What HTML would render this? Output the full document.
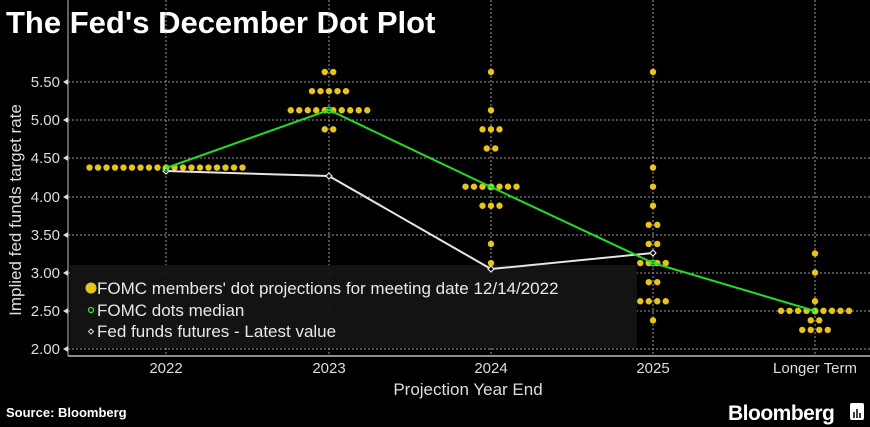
<!DOCTYPE html>
<html><head><meta charset="utf-8"><style>
html,body{margin:0;padding:0;background:#000;}
svg{display:block;font-family:"Liberation Sans",sans-serif;}
</style></head><body>
<svg width="870" height="427" viewBox="0 0 870 427" xmlns="http://www.w3.org/2000/svg">
<rect width="870" height="427" fill="#000"/>
<text x="6" y="33" fill="#fff" font-size="31" font-weight="bold">The Fed's December Dot Plot</text>
<g stroke="#9a9a9a" stroke-width="1" stroke-dasharray="2,2">
<line x1="68" x2="870" y1="82" y2="82"/><line x1="68" x2="870" y1="120" y2="120"/>
<line x1="68" x2="870" y1="158" y2="158"/><line x1="68" x2="870" y1="197" y2="197"/>
<line x1="68" x2="870" y1="235" y2="235"/><line x1="68" x2="870" y1="273" y2="273"/>
<line x1="68" x2="870" y1="311" y2="311"/><line x1="68" x2="870" y1="349" y2="349"/>
<line x1="166" x2="166" y1="0" y2="356"/><line x1="329" x2="329" y1="0" y2="356"/>
<line x1="491" x2="491" y1="0" y2="356"/><line x1="653" x2="653" y1="0" y2="356"/>
<line x1="815" x2="815" y1="0" y2="356"/>
</g>
<line x1="68" x2="68" y1="0" y2="356" stroke="#bbb"/>
<line x1="68" x2="870" y1="356" y2="356" stroke="#bbb" stroke-width="1.5"/>
<g fill="#ddd" font-size="15" text-anchor="end">
<text x="60" y="87">5.50</text><text x="60" y="125">5.00</text><text x="60" y="163">4.50</text>
<text x="60" y="202">4.00</text><text x="60" y="240">3.50</text><text x="60" y="278">3.00</text>
<text x="60" y="316">2.50</text><text x="60" y="354">2.00</text>
</g>
<g fill="#ddd"><path d="M63,82 l5,-3 v6z"/><path d="M63,120 l5,-3 v6z"/><path d="M63,158 l5,-3 v6z"/><path d="M63,197 l5,-3 v6z"/><path d="M63,235 l5,-3 v6z"/><path d="M63,273 l5,-3 v6z"/><path d="M63,311 l5,-3 v6z"/><path d="M63,349 l5,-3 v6z"/></g>
<text transform="translate(21,210) rotate(-90)" fill="#ddd" font-size="17" text-anchor="middle">Implied fed funds target rate</text>
<g fill="#ddd" font-size="15" text-anchor="middle">
<text x="166" y="373">2022</text><text x="329" y="373">2023</text><text x="491" y="373">2024</text>
<text x="653" y="373">2025</text><text x="815" y="373">Longer Term</text>
<text x="468" y="395" font-size="17">Projection Year End</text>
</g>
<rect x="70" y="265" width="567" height="83" fill="#141414" opacity="0.93"/>
<g fill="#e8c31a">
<!-- 2022 -->
<g transform="translate(0,167.55)">
<circle cx="89.5" r="3.2"/><circle cx="98" r="3.2"/><circle cx="106.5" r="3.2"/><circle cx="115" r="3.2"/><circle cx="123.5" r="3.2"/><circle cx="132" r="3.2"/><circle cx="140.5" r="3.2"/><circle cx="149" r="3.2"/><circle cx="157.5" r="3.2"/><circle cx="166" r="3.2"/><circle cx="174.5" r="3.2"/><circle cx="183" r="3.2"/><circle cx="191.5" r="3.2"/><circle cx="200" r="3.2"/><circle cx="208.5" r="3.2"/><circle cx="217" r="3.2"/><circle cx="225.5" r="3.2"/><circle cx="234" r="3.2"/><circle cx="242.5" r="3.2"/>
</g>
<!-- 2023 -->
<circle cx="324.75" cy="72" r="3.2"/><circle cx="333.25" cy="72" r="3.2"/>
<g transform="translate(0,91.15)"><circle cx="312" r="3.2"/><circle cx="320.5" r="3.2"/><circle cx="329" r="3.2"/><circle cx="337.5" r="3.2"/><circle cx="346" r="3.2"/></g>
<g transform="translate(0,110.25)"><circle cx="290.75" r="3.2"/><circle cx="299.25" r="3.2"/><circle cx="307.75" r="3.2"/><circle cx="316.25" r="3.2"/><circle cx="324.75" r="3.2"/><circle cx="333.25" r="3.2"/><circle cx="341.75" r="3.2"/><circle cx="350.25" r="3.2"/><circle cx="358.75" r="3.2"/><circle cx="367.25" r="3.2"/></g>
<circle cx="324.75" cy="129.35" r="3.2"/><circle cx="333.25" cy="129.35" r="3.2"/>
<!-- 2024 -->
<circle cx="491" cy="72" r="3.2"/><circle cx="491" cy="110.25" r="3.2"/>
<circle cx="482.5" cy="129.35" r="3.2"/><circle cx="491" cy="129.35" r="3.2"/><circle cx="499.5" cy="129.35" r="3.2"/>
<circle cx="486.75" cy="148.45" r="3.2"/><circle cx="495.25" cy="148.45" r="3.2"/>
<g transform="translate(0,186.65)"><circle cx="465.5" r="3.2"/><circle cx="474" r="3.2"/><circle cx="482.5" r="3.2"/><circle cx="491" r="3.2"/><circle cx="499.5" r="3.2"/><circle cx="508" r="3.2"/><circle cx="516.5" r="3.2"/></g>
<circle cx="482.5" cy="205.75" r="3.2"/><circle cx="491" cy="205.75" r="3.2"/><circle cx="499.5" cy="205.75" r="3.2"/>
<circle cx="491" cy="243.95" r="3.2"/><circle cx="491" cy="263.05" r="3.2"/>
<!-- 2025 -->
<circle cx="653" cy="72" r="3.2"/><circle cx="653" cy="167.55" r="3.2"/><circle cx="653" cy="186.65" r="3.2"/><circle cx="653" cy="205.75" r="3.2"/>
<circle cx="648.75" cy="224.85" r="3.2"/><circle cx="657.25" cy="224.85" r="3.2"/>
<circle cx="648.75" cy="243.95" r="3.2"/><circle cx="657.25" cy="243.95" r="3.2"/>
<g transform="translate(0,263.05)"><circle cx="640.25" r="3.2"/><circle cx="648.75" r="3.2"/><circle cx="657.25" r="3.2"/><circle cx="665.75" r="3.2"/></g>
<circle cx="648.75" cy="282.15" r="3.2"/><circle cx="657.25" cy="282.15" r="3.2"/>
<g transform="translate(0,301.25)"><circle cx="640.25" r="3.2"/><circle cx="648.75" r="3.2"/><circle cx="657.25" r="3.2"/><circle cx="665.75" r="3.2"/></g>
<circle cx="653" cy="320.35" r="3.2"/>
<!-- LT -->
<circle cx="815" cy="253.5" r="3.2"/><circle cx="815" cy="272.6" r="3.2"/><circle cx="815" cy="301.25" r="3.2"/>
<g transform="translate(0,310.8)"><circle cx="781" r="3.2"/><circle cx="789.5" r="3.2"/><circle cx="798" r="3.2"/><circle cx="806.5" r="3.2"/><circle cx="815" r="3.2"/><circle cx="823.5" r="3.2"/><circle cx="832" r="3.2"/><circle cx="840.5" r="3.2"/><circle cx="849" r="3.2"/></g>
<circle cx="810.75" cy="320.35" r="3.2"/><circle cx="819.25" cy="320.35" r="3.2"/>
<g transform="translate(0,329.9)"><circle cx="802.25" r="3.2"/><circle cx="810.75" r="3.2"/><circle cx="819.25" r="3.2"/><circle cx="827.75" r="3.2"/></g>
</g>
<polyline points="166,171 329,176 491,269 653,253" fill="none" stroke="#e6e6e6" stroke-width="2"/>
<g fill="#000" stroke="#e6e6e6" stroke-width="1.2">
<path d="M166,168 l3,3 -3,3 -3,-3z"/><path d="M329,173 l3,3 -3,3 -3,-3z"/><path d="M491,266 l3,3 -3,3 -3,-3z"/><path d="M653,250 l3,3 -3,3 -3,-3z"/></g>
<polyline points="166,168 329,110 491,187 653,263 815,311" fill="none" stroke="#22dd22" stroke-width="2"/>
<g fill="none" stroke="#33ee33" stroke-width="1.2">
<circle cx="166" cy="168" r="3"/><circle cx="329" cy="110" r="3"/><circle cx="491" cy="187" r="3"/><circle cx="653" cy="263" r="3"/><circle cx="815" cy="311" r="3"/></g>
<g font-size="17" fill="#e8e8e8">
<circle cx="91" cy="288" r="5.5" fill="#e8c31a"/><text x="97" y="294">FOMC members' dot projections for meeting date 12/14/2022</text>
<circle cx="91" cy="310" r="2.5" fill="none" stroke="#33ee33" stroke-width="1.2"/><text x="97" y="316">FOMC dots median</text>
<path d="M91,329 l2.5,2.5 -2.5,2.5 -2.5,-2.5z" fill="none" stroke="#ddd"/><text x="97" y="337">Fed funds futures - Latest value</text>
</g>
<text x="6" y="417" fill="#fff" font-size="13" font-weight="bold">Source: Bloomberg</text>
<text x="728" y="420" fill="#fff" font-size="21" font-weight="bold" letter-spacing="-0.5">Bloomberg</text>
<rect x="850" y="403" width="14" height="17" rx="2" fill="#fff"/>
<g stroke="#000" stroke-width="1.5"><line x1="854" y1="418" x2="854" y2="412"/><line x1="857" y1="418" x2="857" y2="409"/><line x1="860" y1="418" x2="860" y2="413"/></g>
</svg>
</body></html>
